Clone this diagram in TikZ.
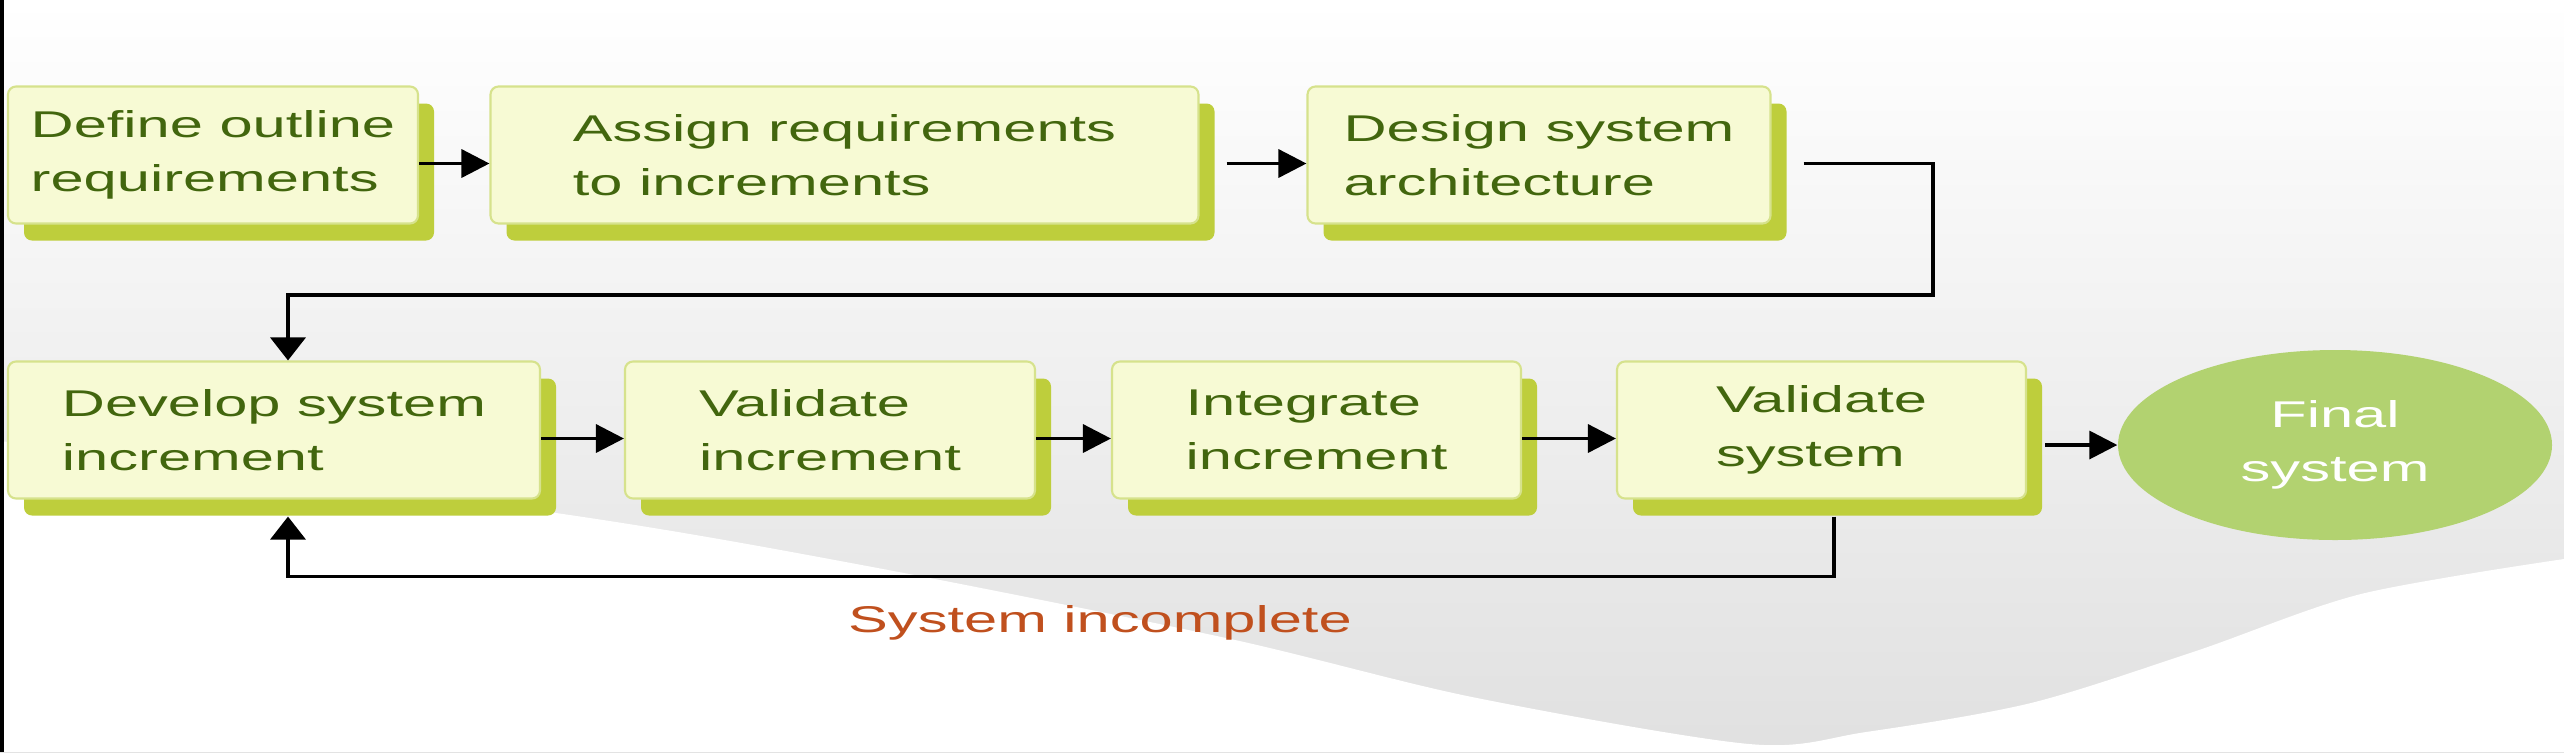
\documentclass[tikz,border=0pt]{standalone}
\usepackage{fontspec}
\setmainfont{Liberation Sans}[FakeStretch=1.6]
\usetikzlibrary{shapes.geometric,arrows.meta,shadows}
\definecolor{boxfill}{RGB}{247,250,212}
\definecolor{boxline}{RGB}{214,226,140}
\definecolor{boxshade}{RGB}{190,206,60}
\definecolor{boxtext}{RGB}{66,102,14}
\definecolor{finfill}{RGB}{178,210,112}
\definecolor{incred}{RGB}{192,80,30}
\newcommand{\stagefont}{\fontsize{10.6}{15.3}\selectfont}

\begin{document}
\begin{tikzpicture}[
    box/.style={draw=boxline, fill=boxfill, line width=0.6pt, rounded corners=0.8mm, inner sep=0pt,
        minimum height=1.37cm, align=left, text=boxtext, font=\stagefont,
        drop shadow={shadow xshift=0.16cm, shadow yshift=-0.17cm, fill=boxshade, opacity=1}},
    final/.style={ellipse, fill=finfill, inner sep=0pt, minimum width=4.34cm, minimum height=1.90cm,
        align=center, text=white, font=\stagefont},
    arrh/.style={line width=1pt, arrows={-Triangle[width=0.28cm, length=0.28cm]}},
    arrv/.style={line width=1pt, arrows={-Triangle[width=0.35cm, length=0.23cm]}}]
        \useasboundingbox (0,0) rectangle (25.64,7.52);
        \fill[top color=white, middle color=gray!8, bottom color=gray!24] (0,0) rectangle (25.64,7.52);
        \fill[white] plot[smooth] coordinates {(0,3.11) (5.56,2.39) (8.67,1.86) (12.26,1.14) (14.72,0.55) (17.49,0.08) (18.66,0.20) (20.31,0.49) (21.96,1.01) (23.61,1.58) (25.64,1.93)} -- (25.64,0) -- (0,0) -- cycle;
        \fill[black] (0,0) rectangle (0.035,7.52);

        \node[box, minimum width=4.10cm] (outline) at (2.13,5.97) {Define outline\\requirements};
        \node[box, minimum width=7.08cm] (assign) at (8.445,5.97) {Assign requirements\\to increments};
        \node[box, minimum width=4.63cm] (design) at (15.39,5.97) {Design system\\architecture};

        \node[box, minimum width=5.32cm] (develop) at (2.74,3.22) {Develop system\\increment};
        \node[box, minimum width=4.10cm] (valinc) at (8.30,3.22) {Validate\\increment};
        \node[box, minimum width=4.09cm] (integ) at (13.165,3.22) {Integrate\\increment};
        \node[box, minimum width=4.09cm] (valsys) at (18.215,3.22) {Validate\\system};
        \node[final] (fin) at (23.35,3.07) {Final\\system};

        \node[text=incred, font=\stagefont] (incomp) at (11.0,1.29) {System incomplete};

        \draw[arrh] ([yshift=-0.085cm]outline.east) -- ([yshift=-0.085cm]assign.west);
        \draw[arrh] ([xshift=0.27cm, yshift=-0.085cm]assign.east) -- ([yshift=-0.085cm]design.west);
        \coordinate (turn) at (19.33,4.57);
        \draw[arrv] ([xshift=0.32cm, yshift=-0.085cm]design.east) -| (turn) -| ([xshift=0.14cm]develop.north);

        \draw[arrh] ([yshift=-0.085cm]develop.east) -- ([yshift=-0.085cm]valinc.west);
        \draw[arrh] ([yshift=-0.085cm]valinc.east) -- ([yshift=-0.085cm]integ.west);
        \draw[arrh] ([yshift=-0.085cm]integ.east) -- ([yshift=-0.085cm]valsys.west);
        \draw[arrh] ([xshift=0.18cm]fin.west -| valsys.east) -- (fin.west);

        \draw[arrv] ([xshift=0.125cm, yshift=-0.17cm]valsys.south) -- ++(0,-0.6) -| ([xshift=0.14cm, yshift=-0.17cm]develop.south);
    \end{tikzpicture}
\end{document}
